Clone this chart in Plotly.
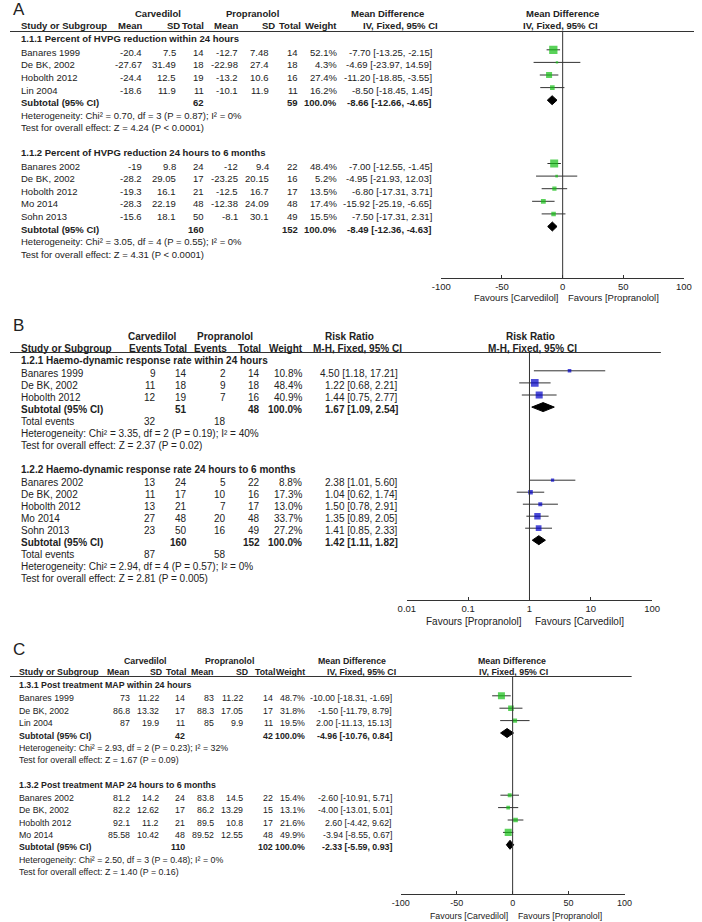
import math
import plotly.graph_objects as go

W, H = 702, 922
FONT = "Liberation Sans, Arial, sans-serif"
INK = "#222222"
LINE = "#333333"
GREEN = "#14bf14"
BLUE = "#0000c8"

# ---------------- Panel A: percent of HVPG reduction (mean difference) ----------------
a1_title = "1.1.1 Percent of HVPG reduction within 24 hours"
a1_study = ["Banares 1999", "De BK, 2002", "Hobolth 2012", "Lin 2004"]
a1_c_mean = [-20.4, -27.67, -24.4, -18.6]
a1_c_sd = [7.5, 31.49, 12.5, 11.9]
a1_c_n = [14, 18, 19, 11]
a1_p_mean = [-12.7, -22.98, -13.2, -10.1]
a1_p_sd = [7.48, 27.4, 10.6, 11.9]
a1_p_n = [14, 18, 16, 11]
a1_weight = [52.1, 4.3, 27.4, 16.2]
a1_md = [-7.70, -4.69, -11.20, -8.50]
a1_lo = [-13.25, -23.97, -18.85, -18.45]
a1_hi = [-2.15, 14.59, -3.55, 1.45]
a1_totals = [62, 59]
a1_sub = [-8.66, -12.66, -4.65]
a1_het = "Heterogeneity: Chi² = 0.70, df = 3 (P = 0.87); I² = 0%"
a1_test = "Test for overall effect: Z = 4.24 (P < 0.0001)"

a2_title = "1.1.2 Percent of HVPG reduction 24 hours to 6 months"
a2_study = ["Banares 2002", "De BK, 2002", "Hobolth 2012", "Mo 2014", "Sohn 2013"]
a2_c_mean = [-19, -28.2, -19.3, -28.3, -15.6]
a2_c_sd = [9.8, 29.05, 16.1, 22.19, 18.1]
a2_c_n = [24, 17, 21, 48, 50]
a2_p_mean = [-12, -23.25, -12.5, -12.38, -8.1]
a2_p_sd = [9.4, 20.15, 16.7, 24.09, 30.1]
a2_p_n = [22, 16, 17, 48, 49]
a2_weight = [48.4, 5.2, 13.5, 17.4, 15.5]
a2_md = [-7.00, -4.95, -6.80, -15.92, -7.50]
a2_lo = [-12.55, -21.93, -17.31, -25.19, -17.31]
a2_hi = [-1.45, 12.03, 3.71, -6.65, 2.31]
a2_totals = [160, 152]
a2_sub = [-8.49, -12.36, -4.63]
a2_het = "Heterogeneity: Chi² = 3.05, df = 4 (P = 0.55); I² = 0%"
a2_test = "Test for overall effect: Z = 4.31 (P < 0.0001)"

# ---------------- Panel B: haemodynamic response (risk ratio) ----------------
b1_title = "1.2.1 Haemo-dynamic response rate within 24 hours"
b1_study = ["Banares 1999", "De BK, 2002", "Hobolth 2012"]
b1_c_ev = [9, 11, 12]
b1_c_n = [14, 18, 19]
b1_p_ev = [2, 9, 7]
b1_p_n = [14, 18, 16]
b1_weight = [10.8, 48.4, 40.9]
b1_rr = [4.50, 1.22, 1.44]
b1_lo = [1.18, 0.68, 0.75]
b1_hi = [17.21, 2.21, 2.77]
b1_totals = [51, 48]
b1_events = [32, 18]
b1_sub = [1.67, 1.09, 2.54]
b1_het = "Heterogeneity: Chi² = 3.35, df = 2 (P = 0.19); I² = 40%"
b1_test = "Test for overall effect: Z = 2.37 (P = 0.02)"

b2_title = "1.2.2 Haemo-dynamic response rate 24 hours to 6 months"
b2_study = ["Banares 2002", "De BK, 2002", "Hobolth 2012", "Mo 2014", "Sohn 2013"]
b2_c_ev = [13, 11, 13, 27, 23]
b2_c_n = [24, 17, 21, 48, 50]
b2_p_ev = [5, 10, 7, 20, 16]
b2_p_n = [22, 16, 17, 48, 49]
b2_weight = [8.8, 17.3, 13.0, 33.7, 27.2]
b2_rr = [2.38, 1.04, 1.50, 1.35, 1.41]
b2_lo = [1.01, 0.62, 0.78, 0.89, 0.85]
b2_hi = [5.60, 1.74, 2.91, 2.05, 2.33]
b2_totals = [160, 152]
b2_events = [87, 58]
b2_sub = [1.42, 1.11, 1.82]
b2_het = "Heterogeneity: Chi² = 2.94, df = 4 (P = 0.57); I² = 0%"
b2_test = "Test for overall effect: Z = 2.81 (P = 0.005)"

# ---------------- Panel C: post treatment MAP (mean difference) ----------------
c1_title = "1.3.1 Post treatment MAP within 24 hours"
c1_study = ["Banares 1999", "De BK, 2002", "Lin 2004"]
c1_c_mean = [73, 86.8, 87]
c1_c_sd = [11.22, 13.32, 19.9]
c1_c_n = [14, 17, 11]
c1_p_mean = [83, 88.3, 85]
c1_p_sd = [11.22, 17.05, 9.9]
c1_p_n = [14, 17, 11]
c1_weight = [48.7, 31.8, 19.5]
c1_md = [-10.00, -1.50, 2.00]
c1_lo = [-18.31, -11.79, -11.13]
c1_hi = [-1.69, 8.79, 15.13]
c1_totals = [42, 42]
c1_sub = [-4.96, -10.76, 0.84]
c1_het = "Heterogeneity: Chi² = 2.93, df = 2 (P = 0.23); I² = 32%"
c1_test = "Test for overall effect: Z = 1.67 (P = 0.09)"

c2_title = "1.3.2 Post treatment MAP 24 hours to 6 months"
c2_study = ["Banares 2002", "De BK, 2002", "Hobolth 2012", "Mo 2014"]
c2_c_mean = [81.2, 82.2, 92.1, 85.58]
c2_c_sd = [14.2, 12.62, 11.2, 10.42]
c2_c_n = [24, 17, 21, 48]
c2_p_mean = [83.8, 86.2, 89.5, 89.52]
c2_p_sd = [14.5, 13.29, 10.8, 12.55]
c2_p_n = [22, 15, 17, 48]
c2_weight = [15.4, 13.1, 21.6, 49.9]
c2_md = [-2.60, -4.00, 2.60, -3.94]
c2_lo = [-10.91, -13.01, -4.42, -8.55]
c2_hi = [5.71, 5.01, 9.62, 0.67]
c2_totals = [110, 102]
c2_sub = [-2.33, -5.59, 0.93]
c2_het = "Heterogeneity: Chi² = 2.50, df = 3 (P = 0.48); I² = 0%"
c2_test = "Test for overall effect: Z = 1.40 (P = 0.16)"

md_ticks = [-100, -50, 0, 50, 100]
md_labels = ["-100", "-50", "0", "50", "100"]
rr_ticks = [0.01, 0.1, 1, 10, 100]
rr_labels = ["0.01", "0.1", "1", "10", "100"]

fig = go.Figure()
ann = []
shapes = []


def txt(x, y, s, anchor="left", bold=False, size=9.5):
    if bold:
        s = "<b>" + s + "</b>"
    ann.append(dict(x=x / W, y=y, xref="paper", yref="y", text=s, showarrow=False,
                    xanchor=anchor, yanchor="middle", borderpad=0,
                    font=dict(size=size, color=INK, family=FONT)))


def hline(x0, x1, y):
    shapes.append(dict(type="line", xref="paper", yref="y", x0=x0 / W, x1=x1 / W,
                       y0=y, y1=y, line=dict(color=LINE, width=1)))


def forest(xa, ys, est, lo, hi, weight, color, k):
    for y, l, h in zip(ys, lo, hi):
        fig.add_trace(go.Scatter(x=[l, h], y=[y, y], mode="lines", xaxis=xa, yaxis="y",
                                 line=dict(color=LINE, width=1), hoverinfo="skip"))
    fig.add_trace(go.Scatter(x=est, y=ys, mode="markers", xaxis=xa, yaxis="y",
                             marker=dict(symbol="square", color=color, line_width=0,
                                         size=[max(2.2, k * math.sqrt(w)) for w in weight])))


def diamond(xa, y, sub, half=4.5):
    e, l, h = sub
    fig.add_trace(go.Scatter(x=[l, e, h, e, l], y=[y, y - half, y, y + half, y], mode="lines",
                             fill="toself", fillcolor="black", xaxis=xa, yaxis="y",
                             line=dict(color="black", width=1), hoverinfo="skip"))


def null_line(xa, x, y0, y1):
    fig.add_trace(go.Scatter(x=[x, x], y=[y0, y1], mode="lines", xaxis=xa, yaxis="y",
                             line=dict(color=LINE, width=1), hoverinfo="skip"))


def group(xa, title, study, cols, colx, weight, est, lo, hi, totals, totx, sub,
          het, test, y_head, y0, step, color, ci_x, wt_x, fs, left, k,
          events=None, evx=None):
    txt(left, y_head, title, bold=True, size=fs)
    ys = []
    for i, name in enumerate(study):
        y = y0 + i * step
        ys.append(y - 2.5)
        txt(left, y, name, size=fs)
        for vals, cx in zip(cols, colx):
            txt(cx, y, f"{vals[i]:g}", "right", size=fs)
        txt(wt_x, y, f"{weight[i]:.1f}%", "right", size=fs)
        txt(ci_x, y, f"{est[i]:.2f} [{lo[i]:.2f}, {hi[i]:.2f}]", "right", size=fs)
    y = y0 + len(study) * step
    txt(left, y, "Subtotal (95% CI)", bold=True, size=fs)
    for v, cx in zip(totals, totx):
        txt(cx, y, str(v), "right", bold=True, size=fs)
    txt(wt_x, y, "100.0%", "right", bold=True, size=fs)
    txt(ci_x, y, f"{sub[0]:.2f} [{sub[1]:.2f}, {sub[2]:.2f}]", "right", bold=True, size=fs)
    forest(xa, ys, est, lo, hi, weight, color, k)
    diamond(xa, y - 2.5, sub)
    if events is not None:
        y += step
        txt(left, y, "Total events", size=fs)
        for v, cx in zip(events, evx):
            txt(cx, y, str(v), "right", size=fs)
    txt(left, y + step, het, size=fs)
    txt(left, y + 2 * step, test, size=fs)


# ---------------- Panel A layout ----------------
fa = 9.5
txt(2, 9, "A", size=17)
txt(152, 13, "Carvedilol", "center", bold=True, size=fa)
txt(249, 13, "Propranolol", "center", bold=True, size=fa)
txt(349, 13, "Mean Difference", bold=True, size=fa)
txt(567, 13, "Mean Difference", "center", bold=True, size=fa)
txt(10, 25.5, "Study or Subgroup", bold=True, size=fa)
for lab, x in [("Mean", 137), ("SD", 175), ("Total", 200), ("Mean", 235), ("SD", 273),
               ("Total", 300), ("Weight", 337), ("IV, Fixed, 95% CI", 440)]:
    txt(x, 25.5, lab, "right", bold=True, size=fa)
txt(565, 25.5, "IV, Fixed, 95% CI", "center", bold=True, size=fa)
hline(0, 702, 31.5)
a_cols = [137, 171, 200, 235, 267, 297]
group("x", a1_title, a1_study, [a1_c_mean, a1_c_sd, a1_c_n, a1_p_mean, a1_p_sd, a1_p_n], a_cols,
      a1_weight, a1_md, a1_lo, a1_hi, a1_totals, [200, 297], a1_sub, a1_het, a1_test,
      38.5, 52.3, 12.6, GREEN, 434, 337, fa, 10, 1.15)
group("x", a2_title, a2_study, [a2_c_mean, a2_c_sd, a2_c_n, a2_p_mean, a2_p_sd, a2_p_n], a_cols,
      a2_weight, a2_md, a2_lo, a2_hi, a2_totals, [200, 297], a2_sub, a2_het, a2_test,
      152.5, 166, 12.6, GREEN, 434, 337, fa, 10, 1.15)
null_line("x", 0, 31.5, 278)
txt(563, 297.5, "Favours [Carvedilol]", "right", size=fa)
txt(572, 297.5, "Favours [Propranolol]", size=fa)

# ---------------- Panel B layout ----------------
fb = 10
txt(2, 325.5, "B", size=17)
txt(146, 336, "Carvedilol", "center", bold=True, size=fb)
txt(221, 336, "Propranolol", "center", bold=True, size=fb)
txt(375, 336, "Risk Ratio", "right", bold=True, size=fb)
txt(534, 336, "Risk Ratio", "center", bold=True, size=fb)
txt(10, 348.5, "Study or Subgroup", bold=True, size=fb)
for lab, x in [("Events", 157), ("Total", 183), ("Events", 224), ("Total", 259),
               ("Weight", 302), ("M-H, Fixed, 95% CI", 403)]:
    txt(x, 348.5, lab, "right", bold=True, size=fb)
txt(536, 348.5, "M-H, Fixed, 95% CI", "center", bold=True, size=fb)
hline(0, 668, 352.5)
b_cols = [151, 183, 223, 258]
group("x2", b1_title, b1_study, [b1_c_ev, b1_c_n, b1_p_ev, b1_p_n], b_cols,
      b1_weight, b1_rr, b1_lo, b1_hi, b1_totals, [183, 258], b1_sub, b1_het, b1_test,
      360.7, 373.3, 12.1, BLUE, 399, 301, fb, 10, 1.1, events=b1_events, evx=[151, 223])
group("x2", b2_title, b2_study, [b2_c_ev, b2_c_n, b2_p_ev, b2_p_n], b_cols,
      b2_weight, b2_rr, b2_lo, b2_hi, b2_totals, [183, 258], b2_sub, b2_het, b2_test,
      469, 482.7, 12.0, BLUE, 399, 301, fb, 10, 1.1, events=b2_events, evx=[151, 223])
null_line("x2", 1, 352.5, 599.5)
txt(527, 621, "Favours [Propranolol]", "right", size=fb)
txt(538, 621, "Favours [Carvedilol]", size=fb)

# ---------------- Panel C layout ----------------
fc = 8.8
txt(2, 649.5, "C", size=17)
txt(139, 660.5, "Carvedilol", "center", bold=True, size=fc)
txt(225, 660.5, "Propranolol", "center", bold=True, size=fc)
txt(315, 660.5, "Mean Difference", bold=True, size=fc)
txt(515.5, 660.5, "Mean Difference", "center", bold=True, size=fc)
txt(8, 672, "Study or Subgroup", bold=True, size=fc)
for lab, x in [("Mean", 124), ("SD", 157), ("Total", 182), ("Mean", 210), ("SD", 245),
               ("Total", 273), ("Weight", 304), ("IV, Fixed, 95% CI", 397)]:
    txt(x, 672, lab, "right", bold=True, size=fc)
txt(517, 672, "IV, Fixed, 95% CI", "center", bold=True, size=fc)
hline(0, 638, 676.5)
c_cols = [124, 154, 181, 210, 240, 271]
group("x3", c1_title, c1_study, [c1_c_mean, c1_c_sd, c1_c_n, c1_p_mean, c1_p_sd, c1_p_n], c_cols,
      c1_weight, c1_md, c1_lo, c1_hi, c1_totals, [181, 271], c1_sub, c1_het, c1_test,
      685, 698.3, 12.4, GREEN, 393, 304, fc, 8, 1.0)
group("x3", c2_title, c2_study, [c2_c_mean, c2_c_sd, c2_c_n, c2_p_mean, c2_p_sd, c2_p_n], c_cols,
      c2_weight, c2_md, c2_lo, c2_hi, c2_totals, [181, 271], c2_sub, c2_het, c2_test,
      785, 797.7, 12.4, GREEN, 393, 304, fc, 8, 1.0)
null_line("x3", 0, 676.5, 894.3)
txt(512, 915.5, "Favours [Carvedilol]", "right", size=fc)
txt(520, 915.5, "Favours [Propranolol]", size=fc)


def xaxis(left, right, pos, ticks, labels, fs, **kw):
    return dict(domain=[left / W, right / W], anchor="free", position=1 - pos / H,
                showline=True, linecolor=LINE, linewidth=1, ticks="inside", ticklen=3,
                tickcolor=LINE, tickvals=ticks, ticktext=labels, showgrid=False, zeroline=False,
                tickfont=dict(size=fs, color=INK, family=FONT), fixedrange=True, **kw)


fig.update_layout(
    width=W, height=H, margin=dict(l=0, r=0, t=0, b=0),
    paper_bgcolor="white", plot_bgcolor="rgba(0,0,0,0)", showlegend=False,
    font=dict(family=FONT, color=INK),
    yaxis=dict(domain=[0, 1], range=[H, 0], visible=False, fixedrange=True),
    xaxis=xaxis(442.7, 691.7, 278, md_ticks, md_labels, 9.5, range=[-100, 100]),
    xaxis2=xaxis(407.3, 659, 599.5, rr_ticks, rr_labels, 9.5, type="log", range=[-2, 2]),
    xaxis3=xaxis(401, 630.7, 894.3, md_ticks, md_labels, 9, range=[-100, 100]),
    annotations=ann, shapes=shapes,
)

fig.write_html("out.html", config={"displayModeBar": False},
               post_script="document.body.style.margin='0';")
